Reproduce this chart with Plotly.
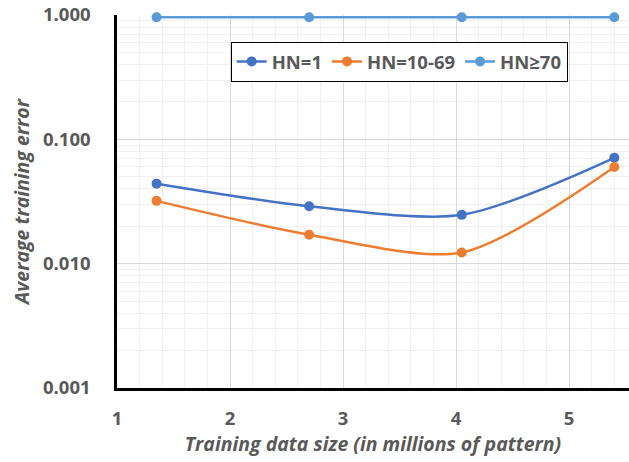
import plotly.graph_objects as go

x_sizes = [1.35, 2.7, 4.05, 5.4]
hn1 = [0.044, 0.029, 0.0247, 0.071]
hn10_69 = [0.032, 0.0171, 0.0123, 0.060]
hn70 = [0.96, 0.96, 0.96, 0.96]
series_names = ["HN=1", "HN=10-69", "HN≥70"]
colors = ["#4472C4", "#ED7D31", "#5B9BD5"]
y_tickvals = [0.001, 0.01, 0.1, 1]
y_ticktext = ["0.001", "0.010", "0.100", "1.000"]
x_tickvals = [1, 2, 3, 4, 5]

minor_y = [m * 10 ** e for e in (-3, -2, -1) for m in range(2, 10)]

FONT = "Open Sans"
GRAY = "#595959"

fig = go.Figure()
for name, ys, c in zip(series_names, [hn1, hn10_69, hn70], colors):
    fig.add_trace(go.Scatter(
        x=x_sizes, y=ys, name=name, mode="lines+markers",
        line=dict(color=c, width=2.5, shape="spline", smoothing=0.8),
        marker=dict(color=c, size=10),
        cliponaxis=False,
    ))

fig.update_layout(
    width=629, height=462,
    margin=dict(l=117, r=0, t=15, b=74),
    paper_bgcolor="white", plot_bgcolor="white",
    font=dict(family=FONT, color=GRAY, size=18),
    showlegend=True,
    legend=dict(
        orientation="h", x=0.222, y=0.928, xanchor="left", yanchor="top",
        bordercolor="black", borderwidth=1, bgcolor="white",
        font=dict(family=FONT, size=18.5, color=GRAY, weight="bold"),
        itemwidth=30, tracegroupgap=0,
    ),
    xaxis=dict(
        range=[1, 5.53], tickvals=x_tickvals, showgrid=True, gridcolor="#D9D9D9", gridwidth=1,
        minor=dict(dtick=0.2, showgrid=True, gridcolor="#F0F0F0", gridwidth=1),
        showline=True, linecolor="black", linewidth=2.5, zeroline=False,
        ticks="", ticklabelstandoff=12, automargin=False,
        tickfont=dict(family=FONT, size=18.5, color=GRAY, weight="bold"),
        title=dict(text="<i>Training data size (in millions of pattern)</i>", standoff=8,
                   font=dict(family=FONT, size=19.5, color=GRAY, weight="bold")),
    ),
    yaxis=dict(
        type="log", range=[-3, 0], tickvals=y_tickvals, ticktext=y_ticktext,
        showgrid=True, gridcolor="#D9D9D9", gridwidth=1,
        minor=dict(tickvals=minor_y, showgrid=True, gridcolor="#F0F0F0", gridwidth=1),
        showline=True, linecolor="black", linewidth=2.5, zeroline=False,
        ticks="", ticklabelstandoff=20, automargin=False,
        tickfont=dict(family=FONT, size=18.5, color=GRAY, weight="bold"),
        title=dict(text="<i>Average training error</i>", standoff=9,
                   font=dict(family=FONT, size=19.5, color=GRAY, weight="bold")),
    ),
)

fig.write_html("out.html", config={"displayModeBar": False},
               post_script="document.body.style.margin='0';document.body.style.padding='0';")
